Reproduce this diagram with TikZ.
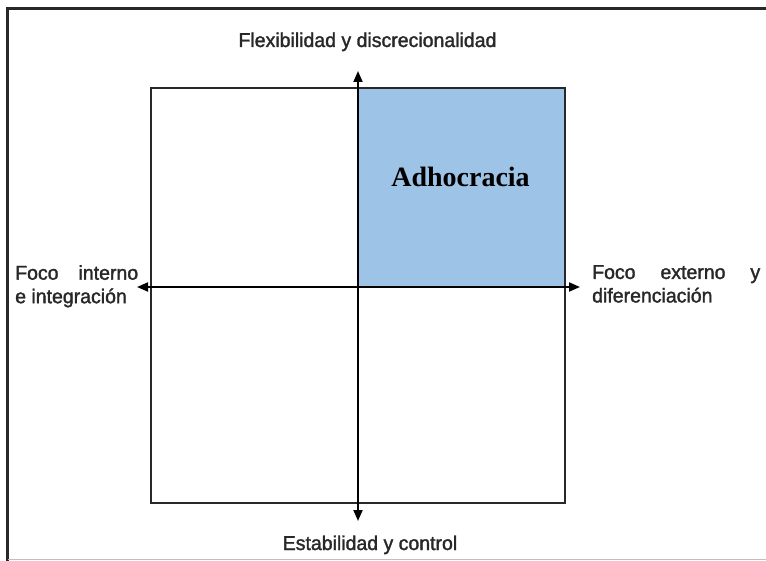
\documentclass[tikz,border=0pt]{standalone}
\usepackage{fontspec}
\setmainfont[FakeStretch=0.975,FakeBold=1.6]{Liberation Sans}
\newfontfamily\quadfont{Liberation Serif}
\usetikzlibrary{arrows.meta}
\definecolor{quadblue}{RGB}{157,195,230}
\definecolor{inkgray}{RGB}{40,40,40}
\begin{document}
\begin{tikzpicture}[x=1pt,y=-1pt,
  axis/.style={line width=2pt, black, {Triangle[length=11pt,width=9pt]}-{Triangle[length=11pt,width=9pt]}},
  quadline/.style={draw=inkgray, line width=2pt},
  lbl/.style={inner sep=0pt, text=inkgray, font=\fontsize{20}{23.5}\selectfont},
  quadlbl/.style={inner sep=0pt, text=black, font=\quadfont\bfseries\fontsize{28}{32}\selectfont}]
\useasboundingbox (0,0) rectangle (766,561);
\fill[white] (0,0) rectangle (766,561);
% outer frame
\draw[line width=2.5pt, inkgray] (7.5,562) -- (7.5,8.5) -- (770,8.5);
\draw[line width=1pt, black!25] (7.5,559.5) -- (770,559.5);
% quadrant grid
\coordinate (nw) at (151,88);
\coordinate (se) at (565,503);
\coordinate (c) at (358,287);
\fill[quadblue] (c) rectangle (se |- nw);
\draw[quadline] (nw) rectangle (se);
% axes
\coordinate (ytop) at (358,71);
\coordinate (ybot) at (358,521);
\coordinate (xleft) at (137,287);
\coordinate (xright) at (580,287);
\draw[axis] (ybot) -- (ytop);
\draw[axis] (xleft) -- (xright);
% labels
\node[lbl, anchor=base] (flex) at (367.5,47) {Flexibilidad y discrecionalidad};
\node[lbl, anchor=base] (estab) at (370,550) {Estabilidad y control};
\node[lbl, anchor=north west, align=left] (interno) at (15,265)
  {\makebox[123pt][l]{Foco\hfill interno}\\e integración};
\node[lbl, anchor=north west, align=left] (externo) at (592,265)
  {\makebox[168pt][l]{Foco\hfill externo\hfill y}\\diferenciación};
\node[quadlbl, anchor=base] (adhoc) at (460.5,187) {Adhocracia};
\end{tikzpicture}
\end{document}
